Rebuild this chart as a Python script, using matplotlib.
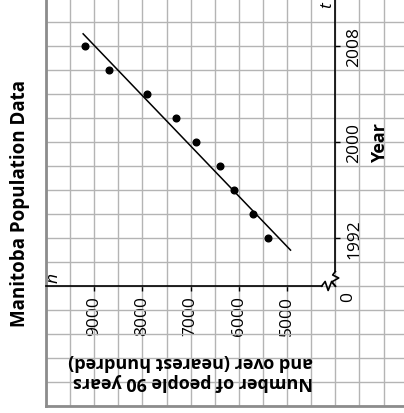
import matplotlib.pyplot as plt
from matplotlib.ticker import FixedLocator, MultipleLocator

plt.rcParams["font.family"] = ["Open Sans", "DejaVu Sans"]

# Manitoba residents aged 90+ (nearest hundred) by year
years = [1992, 1994, 1996, 1998, 2000, 2002, 2004, 2006, 2008]
people = [5400, 5700, 6100, 6400, 6900, 7300, 7900, 8700, 9200]

# line of best fit, drawn between its two end points
fit_years = [1991, 2009]
fit_people = [4930, 9230]

year_ticks = [1992, 2000, 2008]
people_ticks = [9000, 8000, 7000, 6000, 5000]

GRID = "#b4b4b4"
BORDER = "#8c8c8c"

fig = plt.figure(figsize=(4.04, 4.14), dpi=100)
# page is turned on its side: people run right-to-left, years run upward
ax = fig.add_axes([46 / 404, 6.7 / 414, 358 / 404, 407.3 / 414])
ax.set_xlim(10000, 2577)
ax.set_ylim(1978, 2011.9)

# graph paper
ax.xaxis.set_minor_locator(MultipleLocator(500))
ax.yaxis.set_minor_locator(MultipleLocator(2))
ax.grid(which="both", color=GRID, linewidth=1.0, zorder=0)
ax.tick_params(which="minor", length=0)
ax.set_axisbelow(True)

# axes cross at the broken origin
for s in ["left", "top"]:
    ax.spines[s].set_visible(False)
ax.spines["bottom"].set_position(("data", 1988))
ax.spines["bottom"].set_bounds(4285, 10000)
ax.spines["right"].set_position(("data", 4000))
ax.spines["right"].set_bounds(1989.22, 2011.9)
for s in ["bottom", "right"]:
    ax.spines[s].set_linewidth(1.2)
    ax.spines[s].set_color("black")

ax.xaxis.set_major_locator(FixedLocator(people_ticks))
ax.yaxis.set_major_locator(FixedLocator(year_ticks))
ax.yaxis.tick_right()
ax.tick_params(axis="x", which="major", direction="out", length=3.6, width=1.0,
               pad=2.9, labelsize=12.5, labelrotation=90)
ax.tick_params(axis="y", which="major", direction="out", length=3.6, width=1.0,
               pad=4.3, labelsize=12.5, labelrotation=90)
for lab in ax.get_yticklabels():
    lab.set_va("center")

# zigzag breaks near the origin
ax.plot([4285, 4212, 4150, 4077, 4000], [1988, 1988.39, 1987.64, 1988.39, 1988],
        color="black", lw=1.2, clip_on=False)
ax.plot([4000, 4056, 3931, 4077, 4000], [1989.22, 1988.93, 1988.68, 1988.35, 1988],
        color="black", lw=1.2, clip_on=False)

# paper border
ax.axvline(10000, color=BORDER, lw=2.0, clip_on=False)
ax.axhline(1978, color=BORDER, lw=2.0, clip_on=False)

ax.plot(fit_people, fit_years, color="black", lw=1.1, zorder=3)
ax.plot(people, years, "o", color="black", markersize=4.8, zorder=4)

ax.text(3744, 1987.2, "0", rotation=90, ha="center", va="center", fontsize=12.5)
ax.text(4160, 2011.5, "t", rotation=90, ha="center", va="center",
        fontsize=12.5, style="italic")
ax.text(9847, 1988.8, "n", rotation=90, ha="center", va="center",
        fontsize=12.5, style="italic")
ax.text(3077, 2000, "Year", rotation=90, ha="center", va="center",
        fontsize=13, fontweight="bold")
ax.text(7000, 1980.93, "Number of people 90 years\nand over (nearest hundred)",
        rotation=180, ha="center", va="center", multialignment="left",
        fontsize=13, fontweight="bold", linespacing=1.15)

fig.text(20 / 404, 1 - 203.5 / 414, "Manitoba Population Data", rotation=90,
         ha="center", va="center", fontsize=13.5, fontweight="bold")

fig.savefig("out.png", dpi=100)
